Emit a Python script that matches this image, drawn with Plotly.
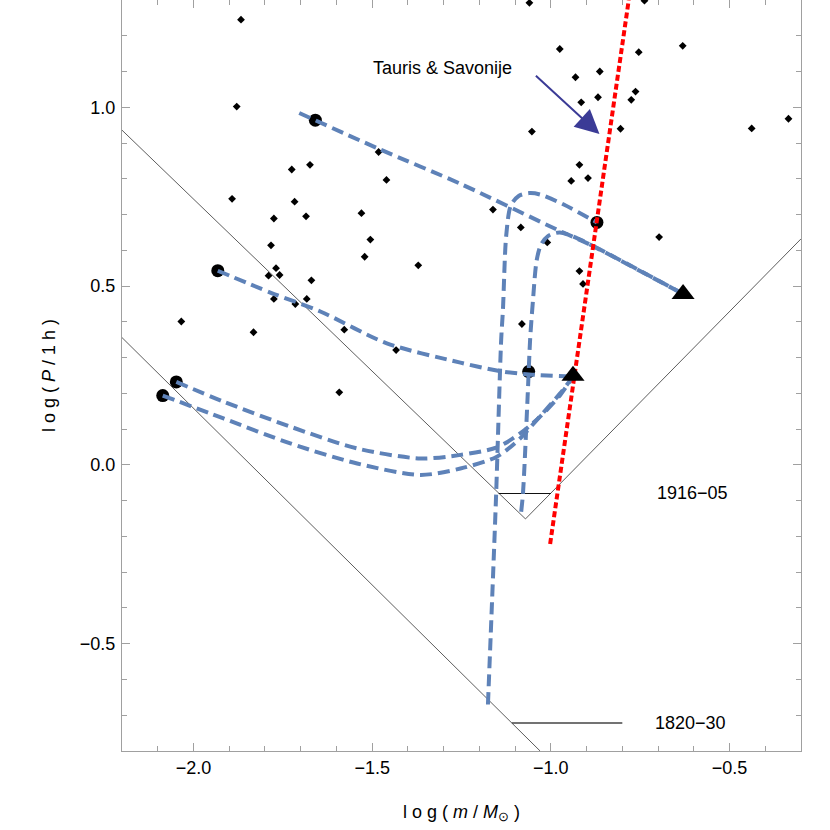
import plotly.graph_objects as go


# ==========================================================
# DATA
# ==========================================================

# observed systems (small black diamonds)
obs_logm = [
    -1.867, -1.879, -1.482, -1.674, -1.725, -1.460, -1.892, -1.717, -1.775,
    -1.685, -1.530, -1.783, -1.505, -1.521, -1.371, -1.769, -1.790, -1.759,
    -1.670, -1.775, -1.683, -1.715, -2.034, -1.832, -1.578, -1.433, -1.592,
    -1.060, -0.738, -0.975, -0.631, -0.754, -0.931, -0.863, -0.763, -0.915,
    -0.868, -0.775, -0.335, -0.438, -1.053, -0.805, -0.920, -0.943, -0.896,
    -1.162, -1.084, -1.010, -0.697, -0.920, -0.910, -1.081
]
obs_logp = [
    1.245, 1.002, 0.875, 0.839, 0.826, 0.797, 0.744, 0.736, 0.689,
    0.695, 0.704, 0.614, 0.630, 0.582, 0.558, 0.550, 0.529, 0.531,
    0.516, 0.464, 0.464, 0.450, 0.401, 0.371, 0.378, 0.321, 0.203,
    1.292, 1.298, 1.163, 1.172, 1.154, 1.084, 1.100, 1.044, 1.014,
    1.028, 1.021, 0.968, 0.941, 0.932, 0.940, 0.839, 0.794, 0.802,
    0.714, 0.664, 0.622, 0.637, 0.542, 0.506, 0.394
]

# evolutionary tracks (dashed)
track_top_x = [-1.704, -1.482, -1.253, -0.983, -0.880, -0.630]
track_top_y = [0.984, 0.884, 0.786, 0.658, 0.611, 0.478]

loop_big_x = [-1.176, -1.160, -1.153, -1.139, -1.134, -1.125, -1.112, -1.090,
              -1.060, -1.030, -0.964, -0.871]
loop_big_y = [-0.670, -0.266, -0.080, 0.350, 0.434, 0.640, 0.725, 0.752,
              0.760, 0.756, 0.728, 0.678]

loop_small_x = [-1.083, -1.078, -1.065, -1.058, -1.050, -1.040, -1.028, -1.008,
                -0.975, -0.918, -0.880, -0.630]
loop_small_y = [-0.131, -0.080, 0.190, 0.350, 0.460, 0.570, 0.615, 0.640,
                0.650, 0.630, 0.611, 0.478]

track_mid_x = [-1.932, -1.785, -1.645, -1.459, -1.253, -1.142, -1.060, -0.938]
track_mid_y = [0.543, 0.482, 0.429, 0.340, 0.286, 0.262, 0.253, 0.247]

track_u1_x = [-2.048, -1.916, -1.729, -1.542, -1.365, -1.253, -1.151, -1.086,
              -1.030, -0.974, -0.938]
track_u1_y = [0.232, 0.177, 0.107, 0.046, 0.018, 0.028, 0.049, 0.088,
              0.135, 0.195, 0.247]

track_u2_x = [-2.086, -1.916, -1.729, -1.542, -1.365, -1.253, -1.151, -1.086,
              -1.039, -0.974, -0.938]
track_u2_y = [0.194, 0.130, 0.060, 0.004, -0.028, -0.010, 0.023, 0.074,
              0.126, 0.200, 0.247]

# start / end markers
circle_x = [-1.659, -1.932, -2.048, -2.086, -0.871, -1.062]
circle_y = [0.964, 0.543, 0.232, 0.194, 0.678, 0.261]
triangle_x = [-0.630, -0.938]
triangle_y = [0.478, 0.249]

# Tauris & Savonije line (red dotted)
ts_x = [-1.002, -0.782]
ts_y = [-0.221, 1.300]

# thin reference lines
vline_x = [-2.2, -1.071, -0.3]
vline_y = [0.936, -0.151, 0.632]
lower_line_x = [-2.2, -1.030]
lower_line_y = [0.356, -0.800]
bar1_x = [-1.146, -1.000]
bar1_y = [-0.080, -0.080]
bar2_x = [-1.109, -0.800]
bar2_y = [-0.722, -0.722]

FONT = "Liberation Sans, Arial, sans-serif"
BLUE = "#5e82b8"


# ==========================================================
# FIGURE
# ==========================================================

fig = go.Figure()

for xs, ys, col, w in [
    (vline_x, vline_y, "#333333", 0.8),
    (lower_line_x, lower_line_y, "#333333", 0.8),
    (bar1_x, bar1_y, "#111111", 1.2),
    (bar2_x, bar2_y, "#444444", 1.5),
]:
    fig.add_trace(go.Scatter(
        x=xs, y=ys, mode="lines",
        line=dict(color=col, width=w),
        hoverinfo="skip"
    ))

fig.add_trace(go.Scatter(
    x=obs_logm, y=obs_logp, mode="markers",
    marker=dict(symbol="diamond", size=6, color="black")
))

fig.add_trace(go.Scatter(
    x=circle_x, y=circle_y, mode="markers",
    marker=dict(symbol="circle", size=13, color="black")
))

for xs, ys in [
    (track_top_x, track_top_y),
    (loop_big_x, loop_big_y),
    (loop_small_x, loop_small_y),
    (track_mid_x, track_mid_y),
    (track_u1_x, track_u1_y),
    (track_u2_x, track_u2_y),
]:
    fig.add_trace(go.Scatter(
        x=xs, y=ys, mode="lines",
        line=dict(color=BLUE, width=4, dash="12px,6px",
                  shape="spline", smoothing=0.8)
    ))

fig.add_trace(go.Scatter(
    x=ts_x, y=ts_y, mode="lines",
    line=dict(color="#ff0000", width=4, dash="6px,3px")
))

fig.add_trace(go.Scatter(
    x=triangle_x, y=triangle_y, mode="markers",
    marker=dict(symbol="triangle-up", size=20, color="black")
))


# ==========================================================
# ANNOTATIONS
# ==========================================================

fig.add_annotation(
    x=-0.864, y=0.925, ax=-1.046, ay=1.092,
    xref="x", yref="y", axref="x", ayref="y",
    text="", showarrow=True,
    arrowhead=2, arrowsize=2.4, arrowwidth=2,
    arrowcolor="#3b3b96", standoff=0
)

for txt, x, y in [
    ("Tauris & Savonije", -1.303, 1.110),
    ("1916\u221205", -0.605, -0.078),
    ("1820\u221230", -0.608, -0.722),
]:
    fig.add_annotation(
        x=x, y=y, xref="x", yref="y", text=txt, showarrow=False,
        font=dict(family=FONT, size=18, color="black")
    )


# ==========================================================
# LAYOUT
# ==========================================================

axis_common = dict(
    showline=True, mirror="ticks", linecolor="#a0a0a0", linewidth=1,
    ticks="inside", ticklen=8, tickcolor="#a0a0a0", tickwidth=1,
    showgrid=False, zeroline=False, dtick=0.5, tickformat=".1f",
    tickfont=dict(family=FONT, size=18, color="black"),
    minor=dict(ticks="inside", ticklen=5, dtick=0.1,
               tickcolor="#a0a0a0", showgrid=False),
)

fig.update_layout(
    width=830, height=830,
    margin=dict(l=122, r=29, t=0, b=79),
    plot_bgcolor="white", paper_bgcolor="white",
    showlegend=False,
    xaxis=dict(
        axis_common, range=[-2.2, -0.3], tick0=-2.0,
        title=dict(
            text="l o g ( <i>m</i> / <i>M</i><sub>\u2299</sub> )",
            font=dict(family=FONT, size=18, color="black"), standoff=28
        )
    ),
    yaxis=dict(
        axis_common, range=[-0.8, 1.3], tick0=0.0, ticklabelstandoff=2,
        title=dict(
            text="l o g ( <i>P</i> / 1 h )",
            font=dict(family=FONT, size=18, color="black"), standoff=19
        )
    ),
)

# page body margin off so the figure sits at the window corner
fig.write_html(
    "out.html",
    config={"displayModeBar": False},
    post_script="document.body.style.margin='0';"
)
